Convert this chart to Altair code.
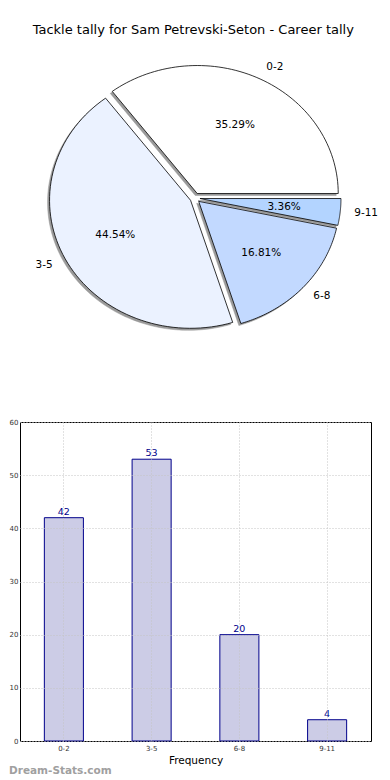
import altair as alt
import pandas as pd

chart_title = "Tackle tally for Sam Petrevski-Seton - Career tally"
categories = ["0-2", "3-5", "6-8", "9-11"]
counts = [42, 53, 20, 4]
slice_colors = ["#ffffff", "#ebf2ff", "#c2d9ff", "#b3d4ff"]
y_ticks = [0, 10, 20, 30, 40, 50, 60]
x_title = "Frequency"
watermark = ["Dream-Stats.com"]

FONT = "DejaVu Sans"
W = 351
PIE_H = 366
BAR_H = 319
CX, CY = 175, 157
RX, RY = 141, 128
EXP = 5
N = 72

df = pd.DataFrame({"cat": categories, "count": counts, "idx": list(range(len(categories)))})

pie_base = (
    alt.Chart(df)
    .transform_joinaggregate(total="sum(count)")
    .transform_window(cum="sum(count)", sort=[alt.SortField("idx")], frame=[None, 0])
    .transform_calculate(
        a0="2*PI*(datum.cum-datum.count)/datum.total",
        a1="2*PI*datum.cum/datum.total",
    )
    .transform_calculate(mid="(datum.a0+datum.a1)/2")
    .transform_calculate(
        ox=f"{CX}+{EXP}*cos(datum.mid)",
        oy=f"{CY}-{EXP}*sin(datum.mid)",
        pct="format(100*datum.count/datum.total, '.2f') + '%'",
    )
)

poly = (
    pie_base.transform_calculate(pts=f"sequence(0,{N + 3})")
    .transform_flatten(["pts"])
    .transform_calculate(
        ang=f"datum.a0+(datum.a1-datum.a0)*(datum.pts-1)/{N}",
        isc=f"datum.pts==0 || datum.pts=={N + 2}",
    )
    .transform_calculate(
        px=f"datum.isc ? datum.ox : datum.ox+{RX}*cos(datum.ang)",
        py=f"datum.isc ? datum.oy : datum.oy-{RY}*sin(datum.ang)",
    )
)

shadow = (
    poly.transform_calculate(sx="datum.px-2", sy="datum.py+2")
    .mark_line(strokeWidth=0.5, interpolate="linear")
    .encode(
        x=alt.X("sx:Q", scale=None, axis=None),
        y=alt.Y("sy:Q", scale=None, axis=None),
        detail="cat:N",
        order=alt.Order("pts:Q"),
        fill=alt.value("#9a9a9a"),
        stroke=alt.value("#9a9a9a"),
    )
)

slices = poly.mark_line(strokeWidth=0.8, interpolate="linear").encode(
    x=alt.X("px:Q", scale=None, axis=None),
    y=alt.Y("py:Q", scale=None, axis=None),
    detail="cat:N",
    order=alt.Order("pts:Q"),
    fill=alt.Fill("cat:N", scale=alt.Scale(domain=categories, range=slice_colors), legend=None),
    stroke=alt.value("black"),
)

pct_text = pie_base.transform_calculate(
    tx=f"datum.ox+0.6*{RX}*cos(datum.mid)",
    ty=f"datum.oy-0.6*{RY}*sin(datum.mid)",
).mark_text(font=FONT, fontSize=10.5, color="black", align="center", baseline="middle").encode(
    x=alt.X("tx:Q", scale=None, axis=None),
    y=alt.Y("ty:Q", scale=None, axis=None),
    text="pct:N",
)

lab_base = pie_base.transform_calculate(
    lx=f"datum.ox+1.1*{RX}*cos(datum.mid)",
    ly=f"datum.oy-1.1*{RY}*sin(datum.mid)",
)
lab_enc = dict(
    x=alt.X("lx:Q", scale=None, axis=None),
    y=alt.Y("ly:Q", scale=None, axis=None),
    text="cat:N",
)
lab_r = lab_base.transform_filter("cos(datum.mid) >= 0").mark_text(
    font=FONT, fontSize=10.5, color="black", align="left", baseline="middle"
).encode(**lab_enc)
lab_l = lab_base.transform_filter("cos(datum.mid) < 0").mark_text(
    font=FONT, fontSize=10.5, color="black", align="right", baseline="middle"
).encode(**lab_enc)

pie = alt.layer(shadow, slices, pct_text, lab_r, lab_l).properties(
    width=W, height=PIE_H, view=alt.ViewBackground(strokeOpacity=0)
)

bdf = pd.DataFrame({"cat": categories, "count": counts})
grid_dash = [1, 2]
x_enc = alt.X(
    "cat:N",
    sort=categories,
    title=x_title,
    scale=alt.Scale(paddingInner=0.555, paddingOuter=0.2775),
    axis=alt.Axis(
        labelAngle=0, labelFont=FONT, labelFontSize=7, labelColor="#333333",
        titleFont=FONT, titleFontSize=10.5, titleFontWeight="normal", titleColor="black",
        grid=True, gridColor="#c4c4c4", gridDash=grid_dash, bandPosition=0.5,
        domain=False, ticks=False, labelPadding=3, titlePadding=4, zindex=1,
    ),
)
y_enc = alt.Y(
    "count:Q",
    scale=alt.Scale(domain=[0, 60], nice=False),
    axis=alt.Axis(
        values=y_ticks, title=None, labelFont=FONT, labelFontSize=7, labelColor="#333333",
        grid=True, gridColor="#c4c4c4", gridDash=grid_dash,
        domain=False, ticks=False, labelPadding=2, zindex=1,
    ),
)
bars = alt.Chart(bdf).mark_bar(fill="#cccce6", stroke="#00008b", strokeWidth=1).encode(x=x_enc, y=y_enc)
bar_text = alt.Chart(bdf).mark_text(
    font=FONT, fontSize=9.5, color="#00008b", baseline="bottom", dy=-1
).encode(x=alt.X("cat:N", sort=categories), y="count:Q", text="count:Q")
wm = alt.Chart(pd.DataFrame({"t": watermark})).mark_text(
    font=FONT, fontSize=10.5, fontWeight="bold", color="#a0a0a0", align="left", baseline="middle"
).encode(x=alt.value(-11), y=alt.value(BAR_H + 30), text="t:N")

bar = alt.layer(bars, bar_text, wm).properties(
    width=W, height=BAR_H, view=alt.ViewBackground(stroke="black", strokeWidth=1)
)

chart = alt.vconcat(
    pie, bar, spacing=10,
    title=alt.Title(chart_title, font=FONT, fontSize=13, fontWeight="normal", anchor="middle", offset=4, color="black"),
).properties(
    padding={"top": 16, "left": 0, "right": 0, "bottom": 0}
).configure(font=FONT)

chart.save("out.html", embed_options={"renderer": "svg", "actions": False})
